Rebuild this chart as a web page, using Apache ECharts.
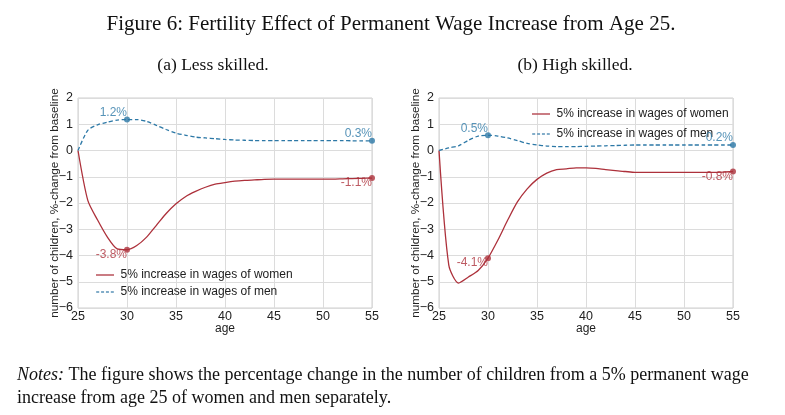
<!DOCTYPE html>
<html>
<head>
<meta charset="utf-8">
<script src="https://cdn.jsdelivr.net/npm/echarts@6/dist/echarts.min.js"></script>
<style>
html,body{margin:0;padding:0;background:#fff;}
#c{width:785px;height:415px;}
</style>
</head>
<body>
<div id="c"></div>
<script>
// ---- Data ----
const ages = [25,26,27,28,29,30,31,32,33,34,35,36,37,38,39,40,41,42,43,44,45,46,47,48,49,50,51,52,53,54,55];

// (a) Less skilled
const lessWomen = [0,-1.9,-2.65,-3.3,-3.75,-3.78,-3.62,-3.3,-2.85,-2.4,-2.03,-1.75,-1.56,-1.4,-1.28,-1.22,-1.17,-1.14,-1.12,-1.1,-1.09,-1.09,-1.09,-1.09,-1.09,-1.09,-1.09,-1.08,-1.07,-1.06,-1.05];
const lessMen = [0,0.77,0.98,1.08,1.16,1.18,1.18,1.11,0.96,0.8,0.66,0.58,0.51,0.48,0.45,0.42,0.4,0.39,0.38,0.38,0.38,0.38,0.38,0.38,0.38,0.38,0.38,0.38,0.37,0.37,0.37];

// (b) High skilled
const highWomen = [0,-4.37,-5.05,-4.82,-4.57,-4.1,-3.42,-2.66,-1.96,-1.46,-1.1,-0.86,-0.73,-0.7,-0.66,-0.66,-0.68,-0.73,-0.77,-0.8,-0.83,-0.83,-0.83,-0.83,-0.83,-0.83,-0.83,-0.83,-0.83,-0.82,-0.8];
const highMen = [0,0.1,0.18,0.39,0.55,0.58,0.55,0.48,0.38,0.27,0.21,0.17,0.15,0.15,0.15,0.16,0.17,0.18,0.19,0.2,0.21,0.21,0.21,0.21,0.21,0.21,0.21,0.21,0.21,0.21,0.21];

// Annotated points: [age, label]
const lessWomenMarks = [[30,'-3.8%'],[55,'-1.1%']];
const lessMenMarks = [[30,'1.2%'],[55,'0.3%']];
const highWomenMarks = [[30,'-4.1%'],[55,'-0.8%']];
const highMenMarks = [[30,'0.5%'],[55,'0.2%']];

const xTicks = [25,30,35,40,45,50,55];
const yTicks = [-6,-5,-4,-3,-2,-1,0,1,2];

const nameWomen = '5% increase in wages of women';
const nameMen = '5% increase in wages of men';

const RED = '#ad313b';
const BLUE = '#2c78a6';
const SANS = '"Liberation Sans", Arial, sans-serif';
const SERIF = '"Liberation Serif", "DejaVu Serif", serif';

const ICON_SOLID = 'path://M0,0H24V2H0Z';
const ICON_DASH = 'path://M0,0H4V2H0Z M6.5,0H10.5V2H6.5Z M13,0H17V2H13Z M19.5,0H23.5V2H19.5Z';

function pairs(vals){ return ages.map((a,i)=>[a, vals[i]]); }
function markData(marks, vals){
  return marks.map(m => ({value:[m[0], vals[ages.indexOf(m[0])]], lbl:m[1]}));
}

function xAxis(gi){
  return {
    gridIndex: gi, type:'value', min: xTicks[0], max: xTicks[xTicks.length-1], interval: 5,
    name:'age', nameLocation:'middle', nameGap:15, nameMoveOverlap:false,
    nameTextStyle:{fontFamily:SANS, fontSize:12, color:'#222'},
    axisLine:{show:false}, axisTick:{show:false},
    axisLabel:{fontFamily:SANS, fontSize:12.5, color:'#222', margin:2},
    splitLine:{show:true, lineStyle:{color:'#dcdcdc', width:1}}
  };
}
function yAxis(gi){
  return {
    gridIndex: gi, type:'value', min: yTicks[0], max: yTicks[yTicks.length-1], interval: 1,
    name:'number of children, %-change from baseline', nameLocation:'middle', nameGap:17, nameRotate:90,
    nameMoveOverlap:false,
    nameTextStyle:{fontFamily:SANS, fontSize:11.7, color:'#222'},
    axisLine:{show:false}, axisTick:{show:false},
    axisLabel:{fontFamily:SANS, fontSize:12.5, color:'#222', margin:5,
      formatter: v => String(v).replace('-', '\u2212')},
    splitLine:{show:true, lineStyle:{color:'#dcdcdc', width:1}}
  };
}
function lineSeries(name, vals, gi, color, dashed){
  return {
    name, type:'line', xAxisIndex:gi, yAxisIndex:gi, data:pairs(vals),
    symbol:'none', smooth:0.25,
    lineStyle:{color, width:1.3, type: dashed ? [4,2.5] : 'solid'},
    itemStyle:{color}, z:3
  };
}
function markSeries(marks, vals, gi, color, pos){
  return {
    type:'scatter', xAxisIndex:gi, yAxisIndex:gi, data:markData(marks, vals),
    symbolSize:6, itemStyle:{color}, z:4, silent:true,
    label:{show:true, position:'left', distance:0,
      offset: pos === 'up' ? [3,-7] : [3,5],
      color, fontFamily:SANS, fontSize:12,
      formatter: p => p.data.lbl}
  };
}
function legend(left, top, gap){
  return {orient:'vertical', left, top, itemWidth:23, itemHeight:1.5, itemGap:gap,
    data:[{name:nameWomen, icon:ICON_SOLID, itemStyle:{color:'#b9505a'}},
          {name:nameMen, icon:ICON_DASH, itemStyle:{color:'#5a92b8'}}],
    textStyle:{fontFamily:SANS, fontSize:12, color:'#222', padding:[0,0,0,-1]}};
}

const chart = echarts.init(document.getElementById('c'), null, {renderer:'canvas'});
chart.setOption({
  backgroundColor:'#fff',
  animation:false,
  title:[
    {text:'Figure 6: Fertility Effect of Permanent Wage Increase from Age 25.', left:386, textAlign:'center', top:9,
      textStyle:{fontFamily:SERIF, fontSize:21, fontWeight:'normal', color:'#111'}},
    {text:'(a) Less skilled.', left:208, top:51, textAlign:'center',
      textStyle:{fontFamily:SERIF, fontSize:17.5, fontWeight:'normal', color:'#111'}},
    {text:'(b) High skilled.', left:570, top:51, textAlign:'center',
      textStyle:{fontFamily:SERIF, fontSize:17.5, fontWeight:'normal', color:'#111'}},
    {text:'{i|Notes:} The figure shows the percentage change in the number of children from a 5% permanent wage\nincrease from age 25 of women and men separately.',
      left:12, top:359,
      textStyle:{fontFamily:SERIF, fontSize:18, fontWeight:'normal', color:'#111', lineHeight:23,
        rich:{i:{fontFamily:SERIF, fontSize:18, fontStyle:'italic', color:'#111', lineHeight:23}}}}
  ],
  grid:[
    {left:78, right:413, top:98, bottom:107, show:true, borderColor:'#cfcfcf', borderWidth:1},
    {left:439, right:52, top:98, bottom:107, show:true, borderColor:'#cfcfcf', borderWidth:1}
  ],
  xAxis:[xAxis(0), xAxis(1)],
  yAxis:[yAxis(0), yAxis(1)],
  legend:[legend(91, 264, 5), legend(527, 103, 8)],
  series:[
    lineSeries(nameWomen, lessWomen, 0, RED, false),
    lineSeries(nameMen, lessMen, 0, BLUE, true),
    lineSeries(nameWomen, highWomen, 1, RED, false),
    lineSeries(nameMen, highMen, 1, BLUE, true),
    markSeries(lessWomenMarks, lessWomen, 0, RED, 'down'),
    markSeries(lessMenMarks, lessMen, 0, BLUE, 'up'),
    markSeries(highWomenMarks, highWomen, 1, RED, 'down'),
    markSeries(highMenMarks, highMen, 1, BLUE, 'up')
  ]
});
</script>
</body>
</html>
